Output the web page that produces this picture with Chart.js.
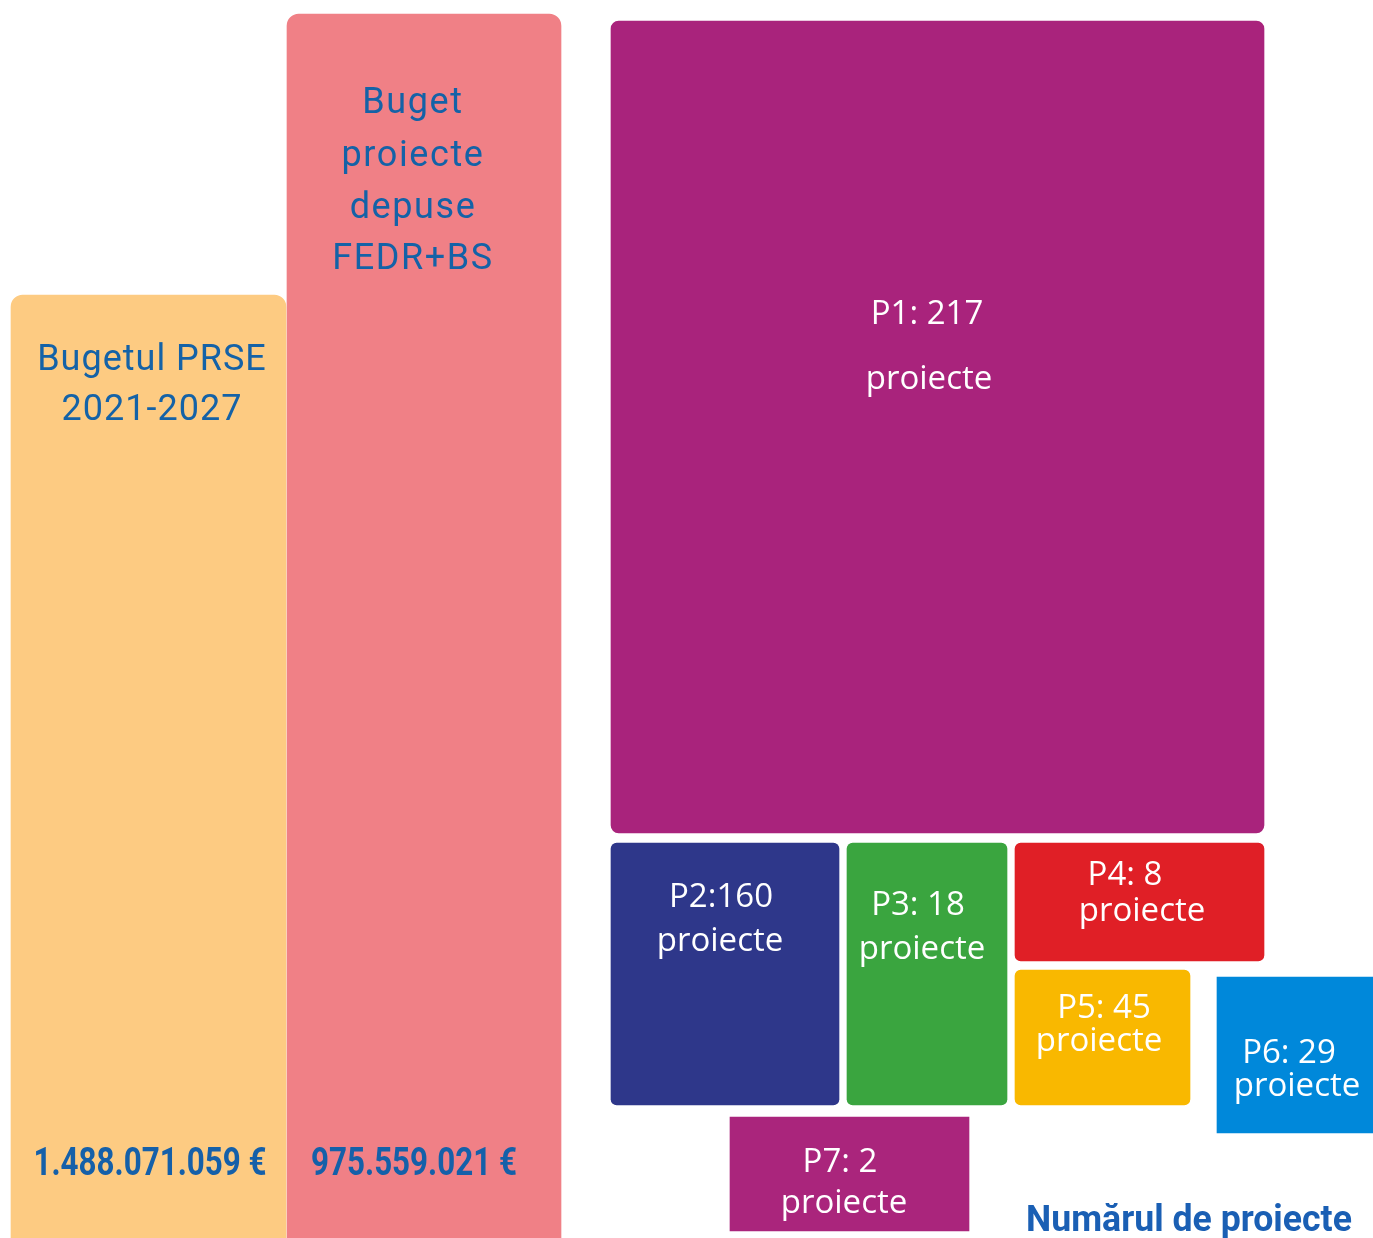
<!DOCTYPE html>
<html>
<head>
<meta charset="utf-8">
<script src="https://cdn.jsdelivr.net/npm/chart.js@4.4.1/dist/chart.umd.min.js"></script>
<style>
    html, body { margin: 0; padding: 0; background: #ffffff; }
    canvas { display: block; }
</style>
</head>
<body>
<canvas id="infoChart" width="1373" height="1238"></canvas>
<script>
// Budget columns
var budgetTitles = [['Bugetul PRSE', '2021-2027'], ['Buget', 'proiecte', 'depuse', 'FEDR+BS']];
var budgetValues = [1488071059, 975559021];

// Projects per priority
var priorityNames = ['P1', 'P2', 'P3', 'P4', 'P5', 'P6', 'P7'];
var projectCounts = [217, 160, 18, 8, 45, 29, 2];
var unitLabel = 'proiecte';
var axisTitle = 'Numărul de proiecte';

// Layout of the infographic (in axis units, x 0..1373, y 0..1238 from the top)
var budgetBoxes = [
    { x0: 11, x1: 286, y0: 295, y1: 1260, color: '#fdcb82', textX: 152, spacing: '1px', titleY: [361, 411], valueX: 150, valueY: 1165 },
    { x0: 287, x1: 561, y0: 14, y1: 1260, color: '#f08086', textX: 413, spacing: '1.6px', titleY: [104, 157, 209, 260], valueX: 414, valueY: 1165 }
];
var cellBoxes = [
    { x0: 611, x1: 1264, y0: 21, y1: 833, color: '#a9237c', r: 8, sep: ': ', tx: [927, 929], ty: [315, 380] },
    { x0: 611, x1: 839, y0: 843, y1: 1105, color: '#2e378a', r: 6, sep: ':', tx: [721, 720], ty: [898, 942] },
    { x0: 847, x1: 1007, y0: 843, y1: 1105, color: '#3aa53f', r: 6, sep: ': ', tx: [918, 922], ty: [906, 950] },
    { x0: 1015, x1: 1264, y0: 843, y1: 961, color: '#e01f26', r: 6, sep: ': ', tx: [1125, 1142], ty: [876, 912] },
    { x0: 1015, x1: 1190, y0: 970, y1: 1105, color: '#f9b800', r: 6, sep: ': ', tx: [1104, 1099], ty: [1009, 1042] },
    { x0: 1217, x1: 1373, y0: 977, y1: 1133, color: '#0088da', r: 0, sep: ': ', tx: [1289, 1297], ty: [1054, 1087] },
    { x0: 730, x1: 969, y0: 1117, y1: 1231, color: '#aa257c', r: 0, sep: ': ', tx: [840, 844], ty: [1163, 1204] }
];
var axisTitlePos = { x: 1189, y: 1222 };

function formatEuro(v) {
    return String(v).replace(/\B(?=(\d{3})+(?!\d))/g, '.') + ' €';
}

function boxDataset(box, radius) {
    return {
        data: [{ x: (box.x0 + box.x1) / 2, y: [box.y0, box.y1] }],
        backgroundColor: box.color,
        barThickness: box.x1 - box.x0,
        grouped: false,
        borderWidth: 0,
        borderRadius: radius,
        borderSkipped: false
    };
}

var datasets = [];
budgetBoxes.forEach(function (b) { datasets.push(boxDataset(b, 12)); });
cellBoxes.forEach(function (c) { datasets.push(boxDataset(c, c.r)); });

// draws all texts on top of the boxes
var labelPlugin = {
    id: 'labels',
    afterDatasetsDraw: function (chart) {
        var ctx = chart.ctx;
        var xs = chart.scales.x, ys = chart.scales.y;

        function squeezed(text, x, y, sx) {
            ctx.save();
            ctx.translate(xs.getPixelForValue(x), ys.getPixelForValue(y));
            ctx.scale(sx, 1);
            ctx.fillText(text, 0, 0);
            ctx.restore();
        }

        ctx.save();
        ctx.textAlign = 'center';
        ctx.textBaseline = 'middle';

        // budget titles and values
        budgetBoxes.forEach(function (b, i) {
            ctx.fillStyle = '#1462a7';
            ctx.font = '400 36px Roboto';
            ctx.letterSpacing = b.spacing;
            budgetTitles[i].forEach(function (line, k) {
                ctx.fillText(line, xs.getPixelForValue(b.textX), ys.getPixelForValue(b.titleY[k]));
            });
            ctx.letterSpacing = '0px';
            ctx.fillStyle = '#1560a9';
            ctx.font = '700 38px Roboto';
            squeezed(formatEuro(budgetValues[i]), b.valueX, b.valueY, 0.825);
        });

        // priority cells
        ctx.fillStyle = '#ffffff';
        ctx.font = '400 33px "Open Sans"';
        cellBoxes.forEach(function (c, i) {
            ctx.fillText(priorityNames[i] + c.sep + projectCounts[i], xs.getPixelForValue(c.tx[0]), ys.getPixelForValue(c.ty[0]));
            ctx.fillText(unitLabel, xs.getPixelForValue(c.tx[1]), ys.getPixelForValue(c.ty[1]));
        });

        // title of the project boxes
        ctx.fillStyle = '#1a5fb4';
        ctx.font = '700 36px Roboto';
        squeezed(axisTitle, axisTitlePos.x, axisTitlePos.y, 0.99);

        ctx.restore();
    }
};

new Chart(document.getElementById('infoChart'), {
    type: 'bar',
    data: { datasets: datasets },
    options: {
        responsive: false,
        animation: false,
        devicePixelRatio: 1,
        layout: { padding: 0 },
        plugins: {
            legend: { display: false },
            tooltip: { enabled: false }
        },
        scales: {
            x: { type: 'linear', min: 0, max: 1373, offset: false, display: false },
            y: { type: 'linear', min: 0, max: 1238, reverse: true, display: false }
        }
    },
    plugins: [labelPlugin]
});
</script>
</body>
</html>
